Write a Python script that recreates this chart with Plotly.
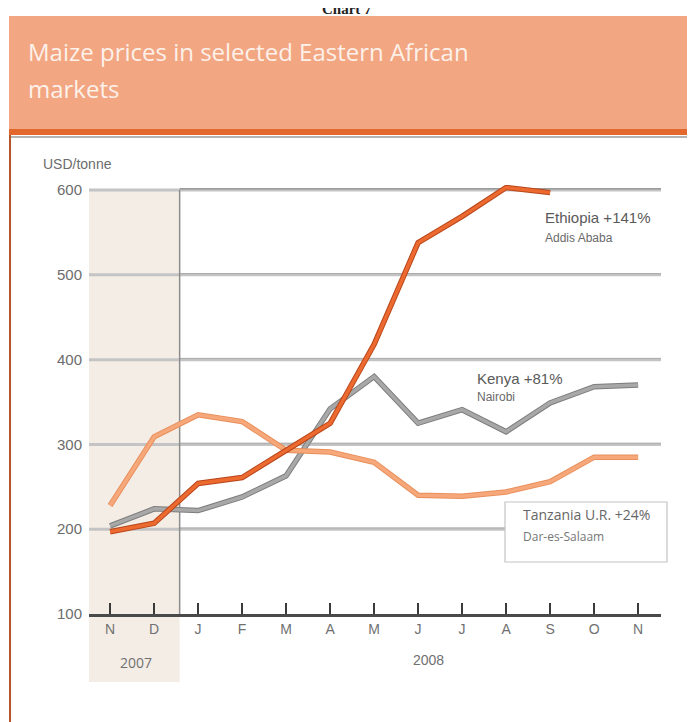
import plotly.graph_objects as go

# Monthly maize prices, USD/tonne (Nov 2007 - Nov 2008)
months = ["N", "D", "J", "F", "M", "A", "M", "J", "J", "A", "S", "O", "N"]
ethiopia = [197, 207, 254, 261, 293, 325, 418, 538, 569, 603, 597, None, None]
kenya = [204, 224, 222, 238, 263, 342, 380, 325, 341, 315, 349, 368, 370]
tanzania = [228, 309, 335, 327, 293, 291, 279, 240, 239, 244, 256, 285, 285]
y_ticks = [100, 200, 300, 400, 500, 600]

x_idx = list(range(len(months)))

# the page body adds an 8px margin, so work in page pixels and shift
OFF = 8
W, H = 695, 722
# plot area in page pixels
X0, X1, Y0, Y1 = 89, 661, 185, 614
L, R = X0 - OFF, W - (X1 - OFF)
T, B = Y0 - OFF, H - (Y1 - OFF)
PW, PH = X1 - X0, Y1 - Y0


def px(x):
    return (x - X0) / PW


def py(y):
    return (Y1 - y) / PH


fig = go.Figure()

# lines: a darker underlay gives the slightly outlined look of the original
series = [
    (kenya, "#7d7d7d", "#a8a8a8"),
    (tanzania, "#e88f5c", "#f6a87a"),
    (ethiopia, "#b8461a", "#ec6a30"),
]
for vals, edge, col in series:
    fig.add_trace(go.Scatter(x=x_idx, y=vals, mode="lines",
                             line=dict(color=edge, width=5.5), hoverinfo="skip"))
    fig.add_trace(go.Scatter(x=x_idx, y=vals, mode="lines",
                             line=dict(color=col, width=3.5)))

shapes = []
# shaded 2007 block
shapes.append(dict(type="rect", xref="x", yref="paper", x0=-0.48, x1=1.58,
                   y0=py(682), y1=py(190), fillcolor="#f4ede6", line_width=0, layer="below"))
# gridlines
for v in y_ticks[1:]:
    shapes.append(dict(type="line", xref="x", yref="y", x0=-0.48, x1=12.52, y0=v, y1=v,
                       line=dict(color="#c4c4c4", width=3), layer="below"))
    shapes.append(dict(type="line", xref="x", yref="y", x0=1.58, x1=12.52, y0=v + 1.5, y1=v + 1.5,
                       line=dict(color="#7a7a7a" if v == 600 else "#a9a9a9", width=1), layer="below"))
# divider between 2007 and 2008
shapes.append(dict(type="line", xref="x", yref="y", x0=1.58, x1=1.58, y0=100, y1=600,
                   line=dict(color="#8c8c8c", width=1.5), layer="below"))
# Tanzania label box
shapes.append(dict(type="rect", xref="paper", yref="paper", x0=px(505), x1=px(667),
                   y0=py(562), y1=py(502), fillcolor="white", line=dict(color="#c4c4c4", width=1.2)))
# header band and frame
shapes.append(dict(type="rect", xref="paper", yref="paper", x0=px(9), x1=px(705),
                   y0=py(131), y1=py(16), fillcolor="#f2a682", line_width=0))
shapes.append(dict(type="rect", xref="paper", yref="paper", x0=px(9), x1=px(705),
                   y0=py(135), y1=py(129), fillcolor="#e2682e", line_width=0))
shapes.append(dict(type="line", xref="paper", yref="paper", x0=px(10), x1=px(705),
                   y0=py(137), y1=py(137), line=dict(color="#9a9a9a", width=1.5)))
shapes.append(dict(type="line", xref="paper", yref="paper", x0=px(10), x1=px(10),
                   y0=py(135), y1=py(735), line=dict(color="#b4562a", width=2)))

annotations = []


def note(text, x, y, size, color, family="Liberation Sans, Arial", anchor="left"):
    annotations.append(dict(text=text, xref="paper", yref="paper", x=px(x), y=py(y),
                            xanchor=anchor, yanchor="middle", showarrow=False,
                            font=dict(size=size, color=color, family=family)))


# the chart number is cut off at the top edge in the original
note("<b>Chart 7</b>", 347, 9, 15, "#222", family="Liberation Serif, serif", anchor="center")
note("Maize prices in selected Eastern African", 26, 52, 24, "#fdf1ea", family="Open Sans")
note("markets", 26, 88, 24, "#fdf1ea", family="Open Sans")
note("USD/tonne", 41, 164, 14, "#6c6c6c")
note("Ethiopia +141%", 543, 218, 15, "#5a5a5a")
note("Addis Ababa", 543, 238, 12, "#6a6a6a")
note("Kenya +81%", 475, 378, 15, "#5a5a5a")
note("Nairobi", 475, 397, 12, "#6a6a6a")
note("Tanzania U.R. +24%", 521, 514, 14, "#666", family="Open Sans")
note("Dar-es-Salaam", 521, 536, 12, "#777", family="Open Sans")
note("2007", 136, 662, 14, "#707070", family="Open Sans", anchor="center")
note("2008", 428, 660, 14, "#707070", anchor="center")

fig.update_layout(
    width=W, height=H,
    margin=dict(l=L, r=R, t=T, b=B),
    paper_bgcolor="white", plot_bgcolor="rgba(0,0,0,0)",
    showlegend=False,
    shapes=shapes, annotations=annotations,
    xaxis=dict(range=[-0.48, 12.52], tickvals=x_idx, ticktext=months,
               showgrid=False, zeroline=False,
               showline=True, linecolor="#4a4a4a", linewidth=3,
               ticks="inside", ticklen=11, tickwidth=2, tickcolor="#3a3a3a",
               tickfont=dict(size=14, color="#707070", family="Liberation Sans, Arial")),
    yaxis=dict(range=[100, 606], tickvals=y_ticks, showgrid=False, zeroline=False,
               showline=False, ticks="", ticklabelstandoff=6,
               tickfont=dict(size=15, color="#6c6c6c", family="Liberation Sans, Arial")),
)

fig.write_html("out.html")
